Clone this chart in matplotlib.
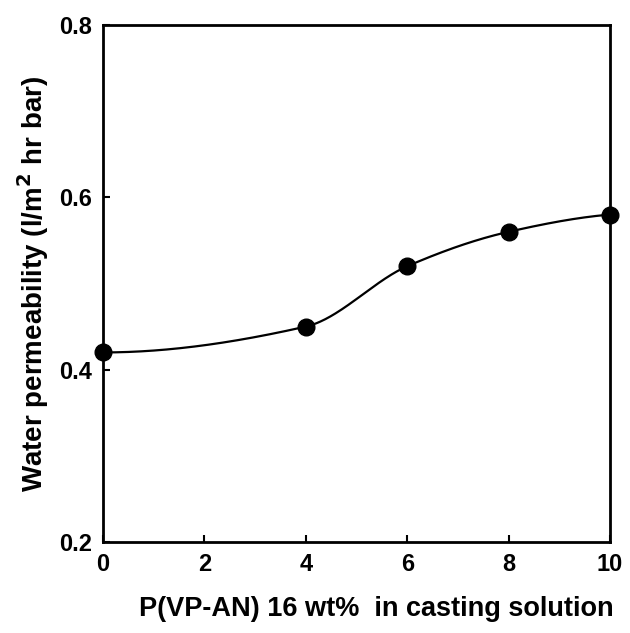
import numpy as np
import matplotlib
matplotlib.use("Agg")
import matplotlib.pyplot as plt

x_vals = [0, 4, 6, 8, 10]
y_vals = [0.42, 0.45, 0.52, 0.56, 0.58]
x_ticks = [0, 2, 4, 6, 8, 10]
y_ticks = [0.2, 0.4, 0.6, 0.8]
y_tick_labels = ["0.2", "0.4", "0.6", "0.8"]

def pchip(x, y, xs):
    x = np.asarray(x, float); y = np.asarray(y, float)
    h = np.diff(x); d = np.diff(y) / h
    n = len(x); m = np.zeros(n)
    for k in range(1, n - 1):
        if d[k-1] * d[k] > 0:
            w1 = 2 * h[k] + h[k-1]; w2 = h[k] + 2 * h[k-1]
            m[k] = (w1 + w2) / (w1 / d[k-1] + w2 / d[k])
    m[0] = ((2*h[0] + h[1]) * d[0] - h[0] * d[1]) / (h[0] + h[1])
    if np.sign(m[0]) != np.sign(d[0]): m[0] = 0
    m[-1] = ((2*h[-1] + h[-2]) * d[-1] - h[-1] * d[-2]) / (h[-1] + h[-2])
    if np.sign(m[-1]) != np.sign(d[-1]): m[-1] = 0
    out = np.empty_like(xs)
    for i, xv in enumerate(xs):
        k = min(np.searchsorted(x, xv, side='right') - 1, n - 2)
        t = (xv - x[k]) / h[k]
        h00 = 2*t**3 - 3*t**2 + 1; h10 = t**3 - 2*t**2 + t
        h01 = -2*t**3 + 3*t**2; h11 = t**3 - t**2
        out[i] = h00*y[k] + h10*h[k]*m[k] + h01*y[k+1] + h11*h[k]*m[k+1]
    return out

plt.rcParams['font.family'] = ['Liberation Sans', 'DejaVu Sans']
plt.rcParams['font.weight'] = 'bold'

fig = plt.figure(figsize=(6.30, 6.33), dpi=100)
ax = fig.add_axes([103/630, 1 - 542/633, (610 - 103)/630, (542 - 25)/633])

xs = np.linspace(0, 10, 400)
ax.plot(xs, pchip(x_vals, y_vals, xs), color='black', lw=1.6, zorder=2)
ax.plot(x_vals, y_vals, 'o', color='black', ms=12, zorder=3, clip_on=False)

ax.set_xlim(0, 10)
ax.set_ylim(0.2, 0.8)
ax.set_xticks(x_ticks)
ax.set_yticks(y_ticks)
ax.set_yticklabels(y_tick_labels)
ax.tick_params(direction='in', length=5, width=1.5, labelsize=17, pad=8)
for lab in ax.get_xticklabels() + ax.get_yticklabels():
    lab.set_fontweight('bold')
for s in ax.spines.values():
    s.set_linewidth(2)

ax.set_xlabel('P(VP-AN) 16 wt%  in casting solution', fontsize=19.5, fontweight='bold')
ax.xaxis.set_label_coords(0.540, -0.105)
ax.set_ylabel('Water permeability (l/m$^\\mathbf{2}$ hr bar)', fontsize=20, fontweight='bold', labelpad=6)

fig.savefig('out.png', dpi=100)
